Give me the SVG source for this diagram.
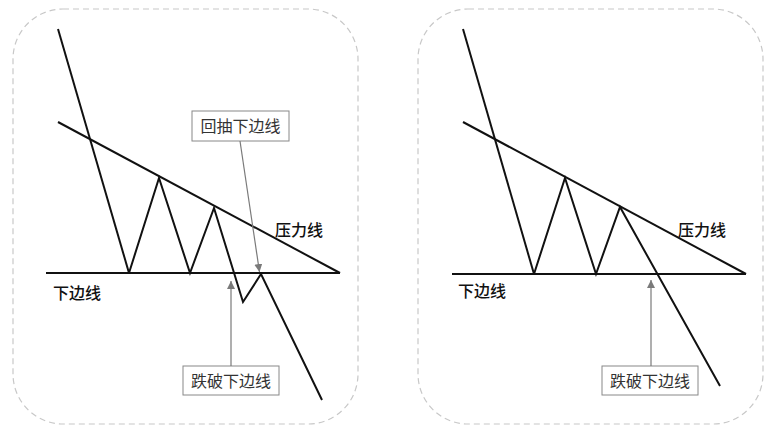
<svg xmlns="http://www.w3.org/2000/svg" width="775" height="428" viewBox="0 0 775 428">
<style>
.panel{fill:none;stroke:#c8c8c8;stroke-width:1.2;stroke-dasharray:6 4}
.ln{fill:none;stroke:#111;stroke-width:2;stroke-linejoin:miter}
.lbl{font-family:"Noto Sans CJK SC","Noto Sans",sans-serif;font-size:16px;fill:#111;font-weight:500}
.box{fill:#fff;stroke:#888;stroke-width:1}
.btxt{font-family:"Noto Sans CJK SC","Noto Sans",sans-serif;font-size:16px;fill:#333;text-anchor:middle}
.arr{fill:none;stroke:#7a7a7a;stroke-width:1.2}
</style>
<defs>
<marker id="ah" viewBox="0 0 10 10" refX="10" refY="5" markerWidth="8" markerHeight="8" markerUnits="userSpaceOnUse" orient="auto"><path d="M0,0 L10,5 L0,10 z" fill="#7a7a7a"/></marker>
</defs>
<rect width="775" height="428" fill="#fff"/>
<g id="panel-left">
<rect class="panel" x="13" y="9" width="345" height="415" rx="50"/>
<line class="ln" x1="58" y1="29" x2="129" y2="273"/>
<line class="ln" x1="58" y1="122" x2="340" y2="273"/>
<line class="ln" x1="46" y1="273" x2="340" y2="273"/>
<polyline class="ln" points="129,273 159,178 190,273 214,208 243,302 261,274 322,400"/>
<text class="lbl" x="275" y="236">压力线</text>
<text class="lbl" x="53" y="299">下边线</text>
</g>
<g id="callout-pullback">
<rect class="box" x="192" y="111" width="97" height="30"/>
<text class="btxt" x="240.5" y="132">回抽下边线</text>
</g>
<g id="callout-break-left">
<rect class="box" x="183" y="366" width="96" height="29"/>
<text class="btxt" x="231" y="387">跌破下边线</text>
</g>
<g id="panel-right">
<rect class="panel" x="418" y="9" width="345" height="415" rx="50"/>
<line class="ln" x1="463" y1="29" x2="534" y2="274"/>
<line class="ln" x1="463" y1="122" x2="746" y2="274"/>
<line class="ln" x1="452" y1="274" x2="746" y2="274"/>
<polyline class="ln" points="534,274 565,178 596,274 620,207 720,386"/>
<text class="lbl" x="678" y="236">压力线</text>
<text class="lbl" x="458" y="297">下边线</text>
</g>
<g id="callout-break-right">
<rect class="box" x="602" y="366" width="96" height="29"/>
<text class="btxt" x="650" y="387">跌破下边线</text>
</g>
<g id="connectors">
<line class="arr" x1="240" y1="141" x2="259.5" y2="272" marker-end="url(#ah)"/>
<line class="arr" x1="231" y1="366" x2="231" y2="281" marker-end="url(#ah)"/>
<line class="arr" x1="651" y1="366" x2="651" y2="280" marker-end="url(#ah)"/>
</g>
</svg>
